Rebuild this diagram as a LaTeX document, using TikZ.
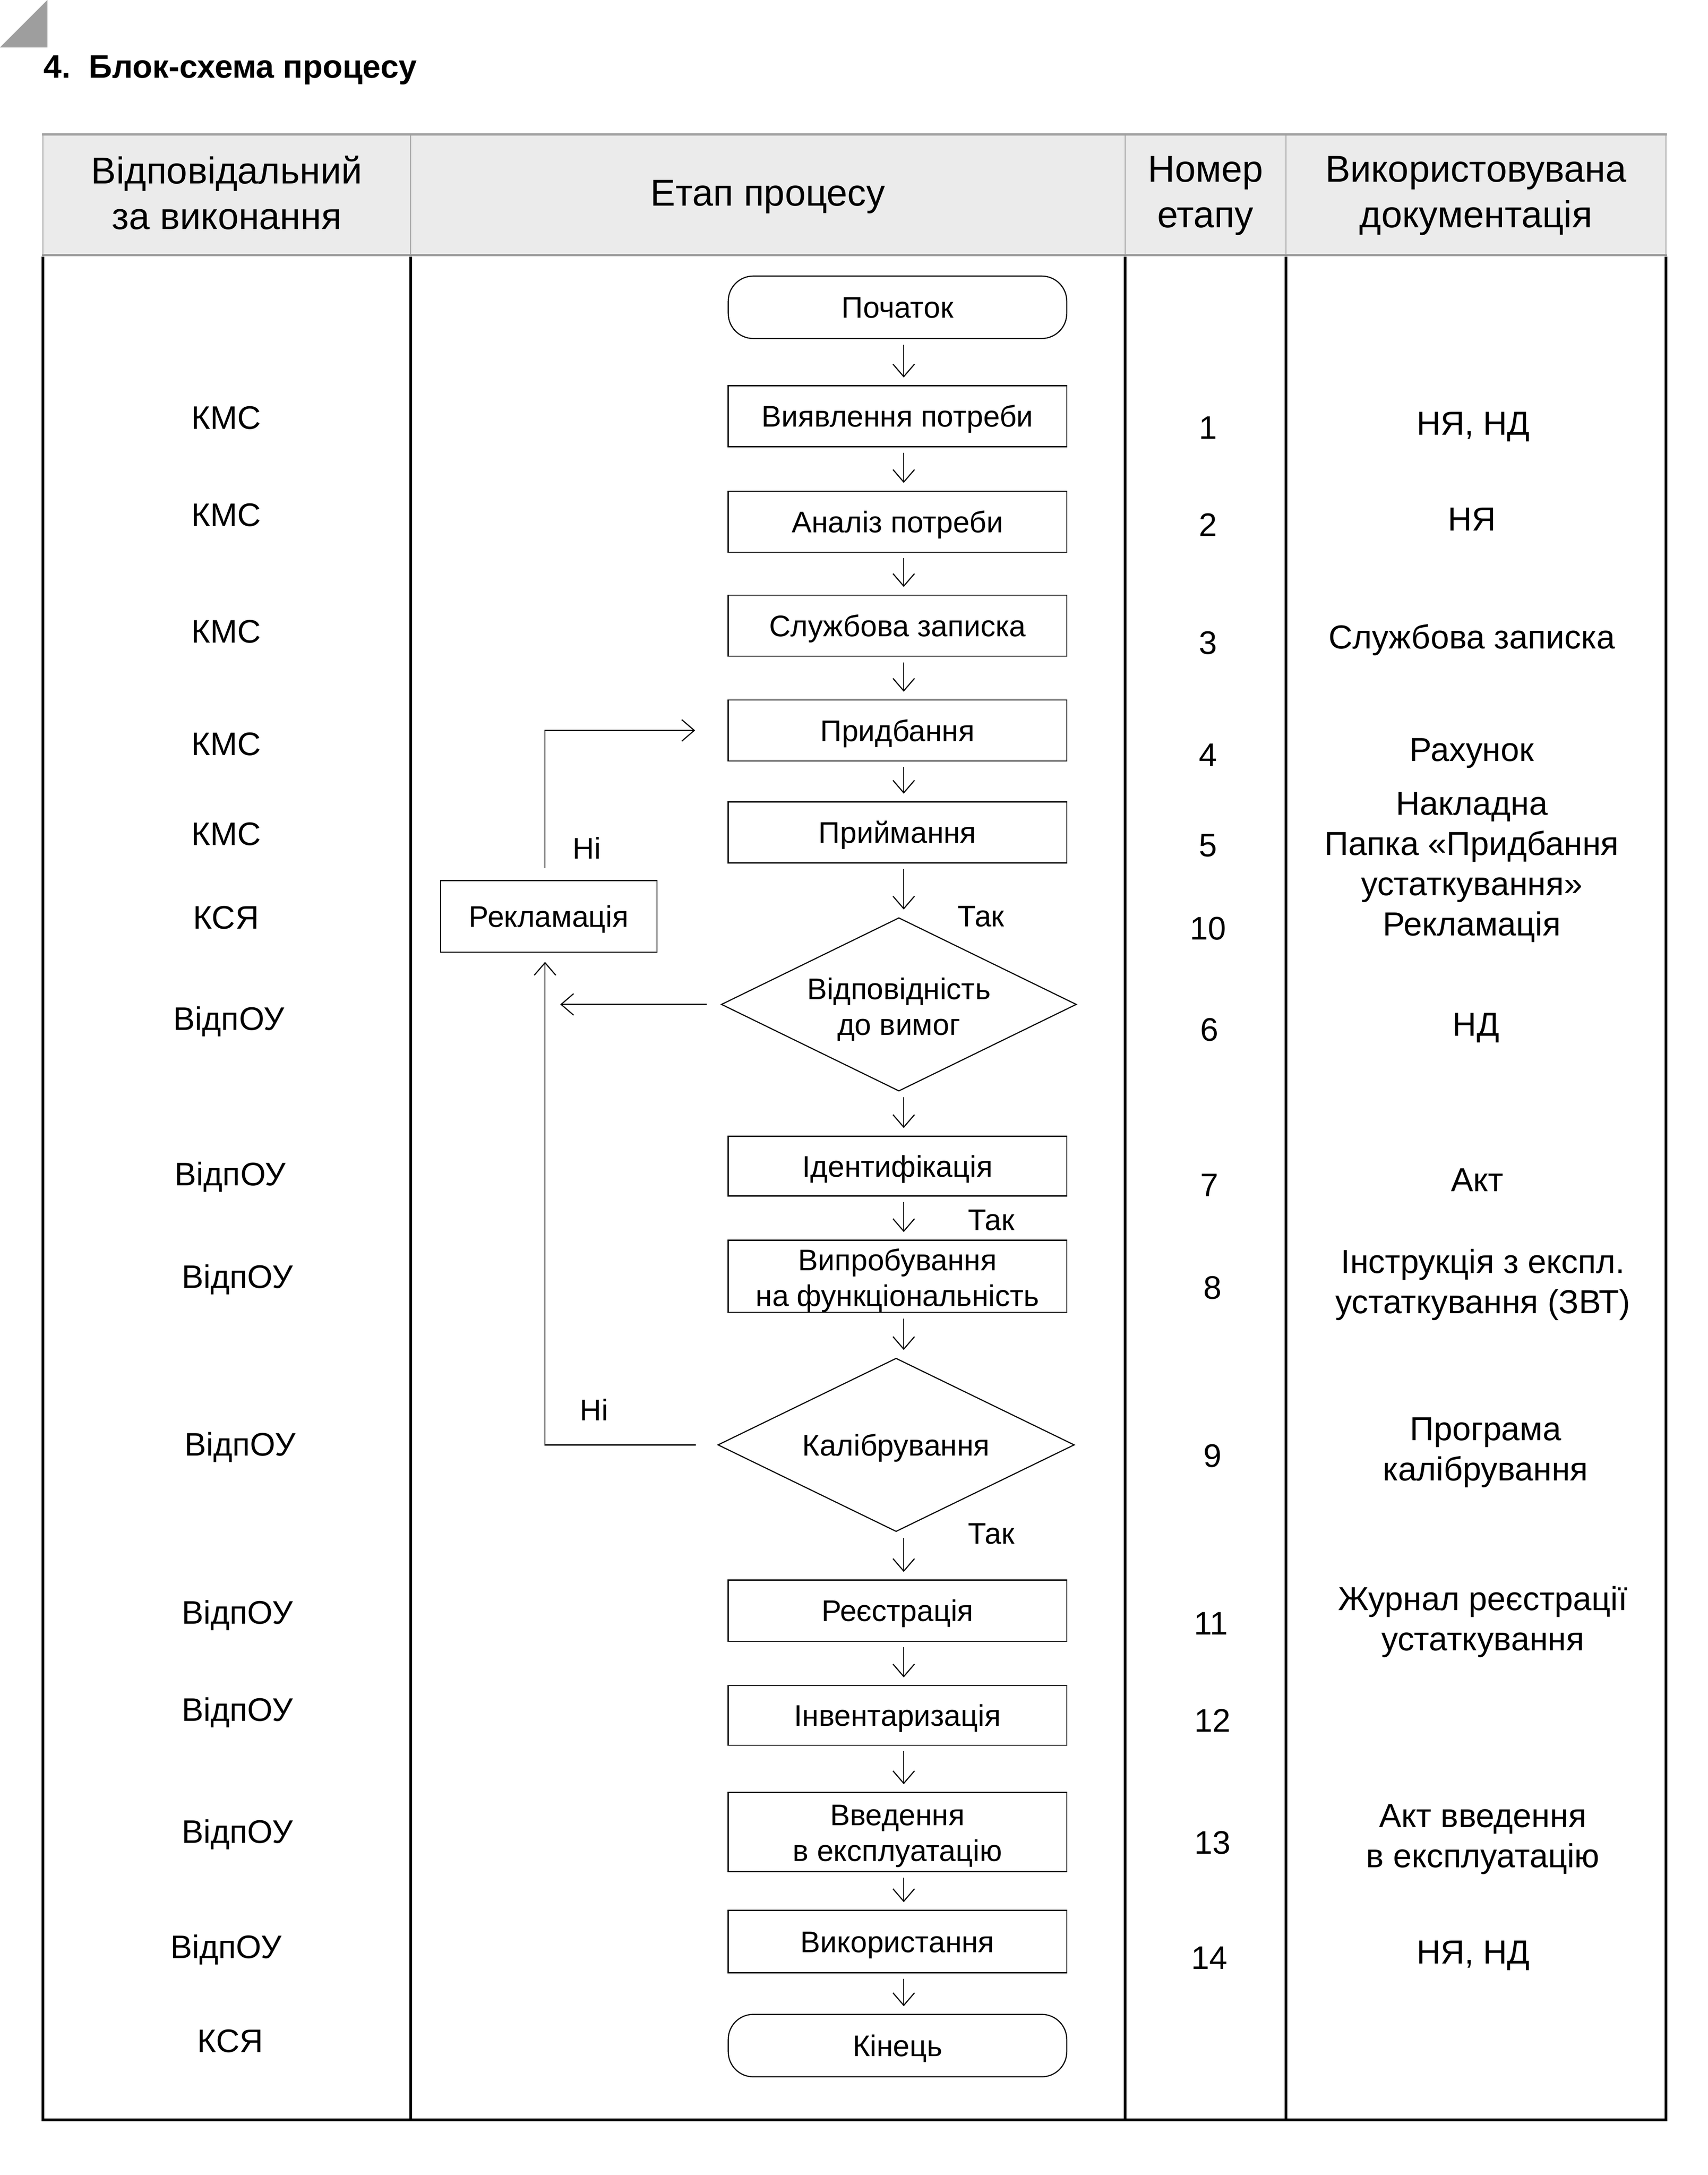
\documentclass[tikz,border=0pt]{standalone}
\usepackage{fontspec}
\setmainfont{Liberation Sans}
\usetikzlibrary{shapes.geometric,arrows.meta}
\newcommand\fNode{\fontsize{21.5}{25.8}\selectfont}
\newcommand\fCol{\fontsize{23.5}{28}\selectfont}
\newcommand\fDoc{\fontsize{24}{29}\selectfont}
\newcommand\fHead{\fontsize{27}{33}\selectfont}
\newcommand\fTitle{\fontsize{23.5}{28}\selectfont\bfseries}
\newcommand\twolines[3]{\raisebox{#1}[\height][\depth]{\begin{tabular}{@{}c@{}}#2\\#3\end{tabular}}}
\definecolor{hdrfill}{HTML}{EBEBEB}
\definecolor{hdrline}{HTML}{A0A0A0}
\definecolor{tri}{HTML}{9E9E9E}
\tikzset{
  box/.style={draw, line width=0.8pt, minimum width=244pt, minimum height=44pt,
    inner sep=0pt, font=\fNode, align=center},
  one/.style={text height=15.5pt, text depth=0pt},
  term/.style={box, one, rounded corners=18pt},
  dec/.style={draw, diamond, aspect=2.05, inner sep=0pt, line width=0.8pt,
    font=\fNode, align=center},
  flow/.style={-{Straight Barb[length=9pt,width=15.5pt]}, line width=0.8pt,
    shorten <=4pt, shorten >=5.5pt},
  lbl/.style={font=\fNode, anchor=base west, inner sep=0pt},
  cell/.style={font=\fCol, inner sep=0pt, text height=16.9pt, text depth=0pt},
  doc/.style={font=\fDoc, inner sep=0pt, text height=17.3pt, text depth=0pt},
  docm/.style={font=\fDoc, inner sep=0pt, align=center},
  head/.style={font=\fHead, inner sep=0pt, align=center},
}
\begin{document}
\begin{tikzpicture}[x=1pt,y=-1pt]
\useasboundingbox (0,0) rectangle (1231.3,1567.8);
% corner mark and title
\fill[tri] (0,34.2) -- (34.2,0) -- (34.2,34.2) -- cycle;
\node[font=\fTitle, anchor=base west, inner sep=0pt] (title) at (31.2,56.1) {4.\ \ Блок-схема процесу};
% header
\fill[hdrfill] (31,97) rectangle (1201,184);
\draw[hdrline, line width=0.7pt] (31,97) -- (31,184) (296,97) -- (296,184)
  (811,97) -- (811,184) (927,97) -- (927,184) (1201,97) -- (1201,184);
\draw[hdrline, line width=1.7pt] (30.2,97) -- (1201.8,97) (30.2,184) -- (1201.8,184);
\node[head] (h1) at (163.5,139) {Відповідальний\\за виконання};
\node[head] (h2) at (553.5,142) {Етап процесу};
\node[head] (h3) at (869,141) {Номер\\етапу};
\node[head] (h4) at (1064,141) {Використовувана\\документація};
% body grid
\draw[line width=2pt, line join=miter] (31,185) -- (31,1528) -- (1201,1528) -- (1201,185);
\draw[line width=2pt] (296,185) -- (296,1528) (811,185) -- (811,1528) (927,185) -- (927,1528);
% flowchart
\coordinate (ax) at (651.5,0);
\coordinate (fx) at (392.9,0);
\node[term, minimum height=45pt] (start) at (647,221.5) {Початок};
\node[box, one] (n1) at (647,300) {Виявлення потреби};
\node[box, one] (n2) at (647,376) {Аналіз потреби};
\node[box, one] (n3) at (647,451) {Службова записка};
\node[box, one] (n4) at (647,526.5) {Придбання};
\node[box, one] (n5) at (647,600) {Приймання};
\node[dec, minimum width=256pt, minimum height=125pt] (d1) at (648,724) {\twolines{-4pt}{Відповідність}{до вимог}};
\node[box, one, minimum height=43pt] (n7) at (647,840.5) {Ідентифікація};
\node[box, minimum height=52pt] (n8) at (647,920) {\twolines{-3.5pt}{Випробування}{на функціональність}};
\node[dec, one, minimum width=257pt, minimum height=125pt] (d2) at (646,1041.5) {Калібрування};
\node[box, one] (n11) at (647,1161) {Реєстрація};
\node[box, one, minimum height=43pt] (n12) at (647,1236.5) {Інвентаризація};
\node[box, minimum height=57pt] (n13) at (647,1320.5) {\twolines{-3pt}{Введення}{в експлуатацію}};
\node[box, one, minimum height=45pt] (n14) at (647,1399.5) {Використання};
\node[term, minimum height=45pt] (end) at (647,1474.5) {Кінець};
\node[box, one, minimum width=156pt, minimum height=51.5pt] (rek) at (395.6,660.5) {Рекламація};
\foreach \a/\b in {start/n1,n1/n2,n2/n3,n3/n4,n4/n5,n5/d1,d1/n7,n7/n8,n8/d2,d2/n11,n11/n12,n12/n13,n13/n14,n14/end}
  \draw[flow] (\a.south -| ax) -- (\b.north -| ax);
\draw[flow, shorten <=8.6pt, shorten >=23.5pt] (rek.north -| fx) |- (n4.west);
\draw[flow, shorten <=10pt, shorten >=11pt] (d1.west) -- (d1.west -| fx);
\draw[flow, shorten <=15.6pt, shorten >=6.7pt] (d2.west) -| (rek.south -| fx);
\node[lbl] (no1) at (412.8,619) {Ні};
\node[lbl] (no2) at (418,1024) {Ні};
\node[lbl] (yes1) at (690.3,668) {Так};
\node[lbl] (yes2) at (697.6,886.7) {Так};
\node[lbl] (yes3) at (697.7,1113) {Так};
% responsible column
\node[cell] (r1) at (163,301) {КМС};
\node[cell] (r2) at (163,371) {КМС};
\node[cell] (r3) at (163,455) {КМС};
\node[cell] (r4) at (163,536) {КМС};
\node[cell] (r5) at (163,601) {КМС};
\node[cell] (r6) at (163,661) {КСЯ};
\node[cell] (r7) at (165,734) {ВідпОУ};
\node[cell] (r8) at (166,846) {ВідпОУ};
\node[cell] (r9) at (171,920) {ВідпОУ};
\node[cell] (r10) at (173,1041) {ВідпОУ};
\node[cell] (r11) at (171,1162) {ВідпОУ};
\node[cell] (r12) at (171,1232) {ВідпОУ};
\node[cell] (r13) at (171,1320) {ВідпОУ};
\node[cell] (r14) at (163,1403) {ВідпОУ};
\node[cell] (r15) at (166,1471) {КСЯ};
% step numbers
\node[cell] (k1) at (871,308) {1};
\node[cell] (k2) at (871,378) {2};
\node[cell] (k3) at (871,463) {3};
\node[cell] (k4) at (871,544) {4};
\node[cell] (k5) at (871,609) {5};
\node[cell] (k10) at (871,669) {10};
\node[cell] (k6) at (872,742) {6};
\node[cell] (k7) at (872,854) {7};
\node[cell] (k8) at (874,928) {8};
\node[cell] (k9) at (874,1049) {9};
\node[cell] (k11) at (873,1170) {11};
\node[cell] (k12) at (874,1240) {12};
\node[cell] (k13) at (874,1328) {13};
\node[cell] (k14) at (872,1411) {14};
% documentation
\node[doc] (dc1) at (1062,305) {НЯ, НД};
\node[doc] (dc2) at (1061,374) {НЯ};
\node[doc] (dc3) at (1061,459) {Службова записка};
\node[doc] (dc4) at (1061,540) {Рахунок};
\node[docm] (dc5) at (1061,625) {Накладна\\Папка «Придбання\\устаткування»\\Рекламація};
\node[doc] (dc6) at (1064,738) {НД};
\node[doc] (dc7) at (1065,850) {Акт};
\node[docm] (dc8) at (1069,926) {Інструкція з експл.\\устаткування (ЗВТ)};
\node[docm] (dc9) at (1071,1047) {Програма\\калібрування};
\node[docm] (dc10) at (1069,1169) {Журнал реєстрації\\устаткування};
\node[docm] (dc11) at (1069,1326) {Акт введення\\в експлуатацію};
\node[doc] (dc12) at (1062,1407) {НЯ, НД};
\end{tikzpicture}
\end{document}
